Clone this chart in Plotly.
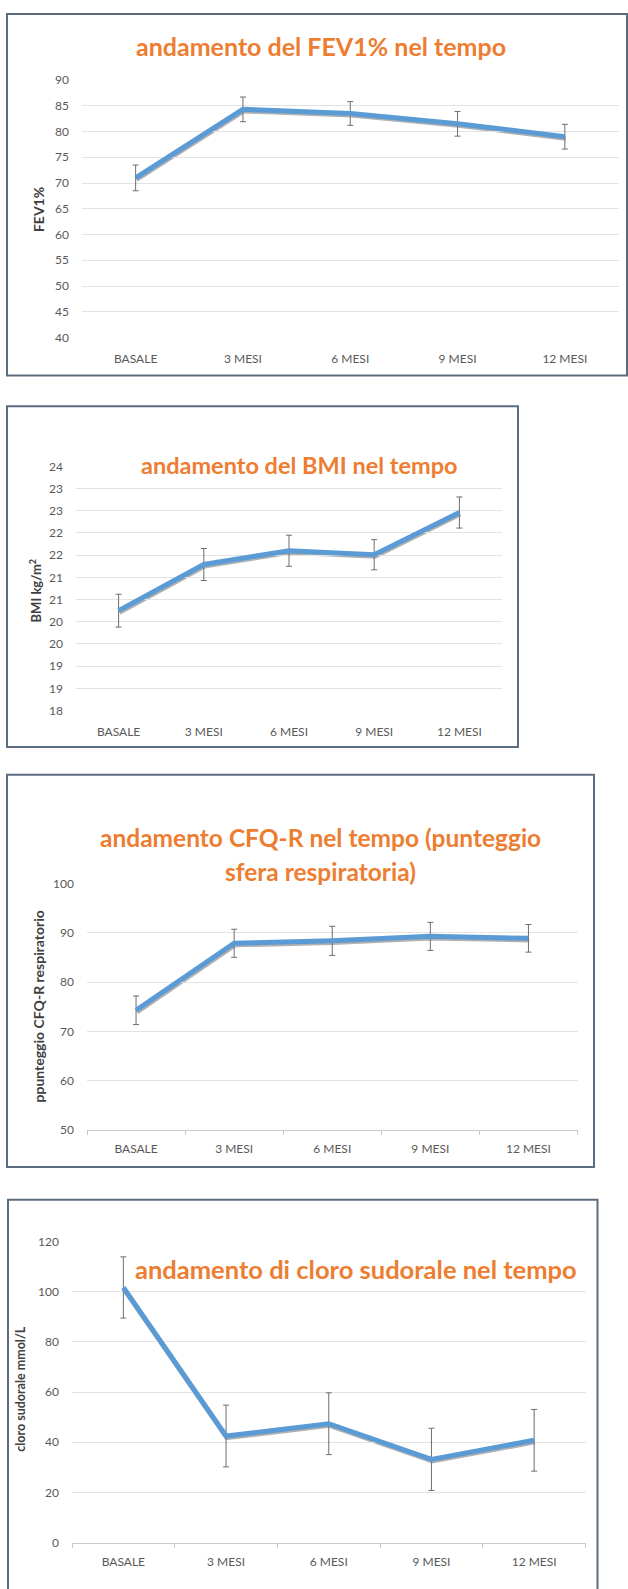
import plotly.graph_objects as go

W, H = 628, 1589

categories = ["BASALE", "3 MESI", "6 MESI", "9 MESI", "12 MESI"]

fev1_values = [71.0, 84.3, 83.5, 81.5, 79.0]
fev1_errors = [2.5, 2.4, 2.3, 2.4, 2.4]
fev1_ticks = [40, 45, 50, 55, 60, 65, 70, 75, 80, 85, 90]
fev1_ticktext = ["40", "45", "50", "55", "60", "65", "70", "75", "80", "85", "90"]

bmi_values = [20.25, 21.29, 21.60, 21.51, 22.46]
bmi_errors = [0.37, 0.36, 0.35, 0.34, 0.35]
bmi_ticks = [18, 18.5, 19, 19.5, 20, 20.5, 21, 21.5, 22, 22.5, 23, 23.5]
bmi_ticktext = ["18", "19", "19", "20", "20", "21", "21", "22", "22", "23", "23", "24"]

cfq_values = [74.3, 87.9, 88.4, 89.3, 88.9]
cfq_errors = [2.9, 2.85, 2.95, 2.85, 2.8]
cfq_ticks = [50, 60, 70, 80, 90, 100]
cfq_ticktext = ["50", "60", "70", "80", "90", "100"]

cloro_values = [101.7, 42.5, 47.4, 33.2, 40.8]
cloro_errors = [12.2, 12.3, 12.3, 12.4, 12.3]
cloro_ticks = [0, 20, 40, 60, 80, 100, 120]
cloro_ticktext = ["0", "20", "40", "60", "80", "100", "120"]

titles = [
    ["andamento del FEV1% nel tempo"],
    ["andamento del BMI nel tempo"],
    ["andamento CFQ-R nel tempo (punteggio", "sfera respiratoria)"],
    ["andamento di cloro sudorale nel tempo"],
]
ytitles = ["FEV1%", "BMI kg/m<sup>2</sup>", "ppunteggio CFQ-R respiratorio", "cloro sudorale mmol/L"]

# layout geometry (pixels)
panels = [
    dict(vals=fev1_values, errs=fev1_errors, ticks=fev1_ticks, ttext=fev1_ticktext,
         box=(7, 6, 627, 371), px=(82, 618.5), py=(72.7, 332.7), yr=(40, 90),
         tpos=[(321, 38)], tsize=25, ytpos=(38, 204), ytsize=14, axline=False),
    dict(vals=bmi_values, errs=bmi_errors, ticks=bmi_ticks, ttext=bmi_ticktext,
         box=(7, 402, 518, 746), px=(76, 502), py=(462.7, 709.3), yr=(18, 23.5),
         tpos=[(299, 461)], tsize=23.5, ytpos=(35, 588), ytsize=13, axline=False),
    dict(vals=cfq_values, errs=cfq_errors, ticks=cfq_ticks, ttext=cfq_ticktext,
         box=(7, 774, 594, 1170), px=(87, 577.5), py=(884, 1132.7), yr=(50, 100),
         tpos=[(320, 837), (320, 872)], tsize=24.5, ytpos=(38, 1008), ytsize=14, axline=True),
    dict(vals=cloro_values, errs=cloro_errors, ticks=cloro_ticks, ttext=cloro_ticktext,
         box=(8, 1203, 597.5, 1600), px=(72, 585.5), py=(1245.3, 1549.3), yr=(0, 120),
         tpos=[(356, 1273)], tsize=25.5, ytpos=(21, 1394), ytsize=12.5, axline=True),
]

def fx(p):
    return p / W

def fy(p):
    return 1 - p / H

fig = go.Figure()
layout = dict(
    width=W, height=H, margin=dict(l=0, r=0, t=0, b=0),
    paper_bgcolor="white", plot_bgcolor="rgba(0,0,0,0)",
    showlegend=False, shapes=[], annotations=[],
    font=dict(family="Lato, 'Open Sans', sans-serif", color="#595959", size=12),
)

tickfont = dict(family="Lato, sans-serif", size=12, color="#595959")
BLUE = "#5B9BD5"
ORANGE = "#ED7D31"

for i, p in enumerate(panels):
    sh = i + 1          # shadow axes (drawn first)
    mn = i + 5          # main axes
    dx, dy = 0.8, 1.6
    layout[f"xaxis{sh}"] = dict(domain=[fx(p["px"][0] + dx), fx(p["px"][1] + dx)],
                                anchor=f"y{sh}", range=[-0.5, 4.5], visible=False,
                                type="category", categoryarray=categories)
    layout[f"yaxis{sh}"] = dict(domain=[fy(p["py"][1] + dy), fy(p["py"][0] + dy)],
                                anchor=f"x{sh}", range=list(p["yr"]), visible=False)
    fig.add_trace(go.Scatter(x=categories, y=p["vals"], mode="lines",
                             line=dict(color="rgba(60,60,60,0.4)", width=5),
                             xaxis=f"x{sh}", yaxis=f"y{sh}", hoverinfo="skip"))
    xa = dict(domain=[fx(p["px"][0]), fx(p["px"][1])], anchor=f"y{mn}",
              range=[-0.5, 4.5], type="category", categoryarray=categories,
              showgrid=False, tickfont=tickfont, ticklabelstandoff=12,
              fixedrange=True)
    if p["axline"]:
        xa.update(showline=True, linecolor="#c8c8c8", linewidth=1,
                  ticks="outside", tickson="boundaries", ticklen=4,
                  tickcolor="#c8c8c8", ticklabelstandoff=8)
    else:
        xa.update(showline=False, ticks="")
    layout[f"xaxis{mn}"] = xa
    layout[f"yaxis{mn}"] = dict(domain=[fy(p["py"][1]), fy(p["py"][0])],
                                anchor=f"x{mn}", range=list(p["yr"]),
                                tickmode="array", tickvals=p["ticks"], ticktext=p["ttext"],
                                showgrid=True, gridcolor="#e3e3e3", gridwidth=1,
                                zeroline=False, showline=False, ticks="",
                                tickfont=tickfont, ticklabelstandoff=12, fixedrange=True)
    fig.add_trace(go.Scatter(x=categories, y=p["vals"], mode="lines",
                             line=dict(color=BLUE, width=5),
                             error_y=dict(type="data", array=p["errs"], visible=True,
                                          color="#6e6e6e", thickness=1, width=3),
                             xaxis=f"x{mn}", yaxis=f"y{mn}"))
    x0, y0, x1, y1 = p["box"]
    layout["shapes"].append(dict(type="rect", xref="paper", yref="paper",
                                 x0=fx(x0), x1=fx(x1), y0=fy(y1), y1=fy(y0),
                                 line=dict(color="#5d6d80", width=2), layer="above"))
    for line_text, (tx, ty) in zip(titles[i], p["tpos"]):
        layout["annotations"].append(dict(text=line_text, xref="paper", yref="paper",
                                          x=fx(tx), y=fy(ty),
                                          xanchor="center", yanchor="middle", showarrow=False,
                                          font=dict(family="Lato, sans-serif", size=p["tsize"],
                                                    color=ORANGE, weight="bold")))
    layout["annotations"].append(dict(text=ytitles[i], xref="paper", yref="paper",
                                      x=fx(p["ytpos"][0]), y=fy(p["ytpos"][1]),
                                      xanchor="center", yanchor="middle", showarrow=False,
                                      textangle=-90,
                                      font=dict(family="Lato, sans-serif", size=p["ytsize"],
                                                color="#404040", weight="bold")))

fig.update_layout(**layout)
fig.write_html("out.html",
               config={"displayModeBar": False, "staticPlot": True},
               post_script="document.body.style.margin='0px';document.body.style.overflow='hidden';")
